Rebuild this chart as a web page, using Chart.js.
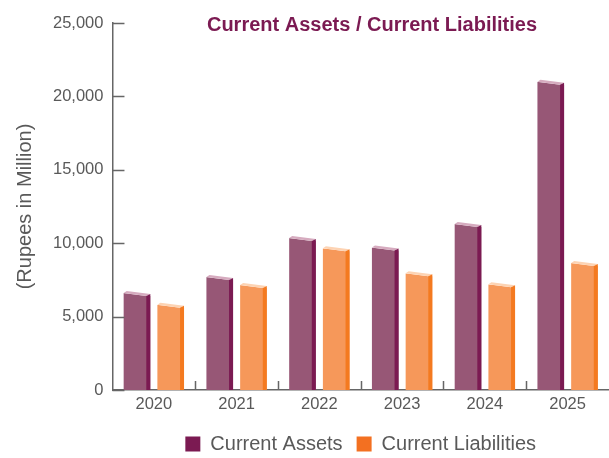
<!DOCTYPE html>
<html>
<head>
<meta charset="utf-8">
<script src="https://cdn.jsdelivr.net/npm/chart.js@4"></script>
<style>
  html, body { margin: 0; padding: 0; background: #fff; }
  #wrap { width: 609px; height: 458px; }
</style>
</head>
<body>
<div id="wrap"><canvas id="chart"></canvas></div>
<script>
// values (Rupees in Million)
const years = ['2020', '2021', '2022', '2023', '2024', '2025'];
const currentAssets = [6600, 7700, 10350, 9700, 11300, 21000];
const currentLiabilities = [5800, 7150, 9650, 7950, 7200, 8650];
const yTicks = [0, 5000, 10000, 15000, 20000, 25000];

const front = ['#975776', '#f6985a'];
const side = ['#7b1a52', '#f47a20'];
const topFace = ['#d6abbf', '#fdd3b3'];
const legendColors = ['#7b1a52', '#f37021'];
const FONT = '"Liberation Sans", Arial, sans-serif';

// draws the side and top faces so the bars look like boxes
const boxBars = {
    id: 'boxBars',
    afterDatasetsDraw(chart) {
        const ctx = chart.ctx;
        chart.data.datasets.forEach((ds, di) => {
            chart.getDatasetMeta(di).data.forEach(bar => {
                const p = bar.getProps(['x', 'y', 'width', 'base'], true);
                const L = p.x - p.width / 2, R = p.x + p.width / 2;
                const T = p.y, B = p.base;
                const s = 4;
                ctx.save();
                // clear the corner above the slanted front edge
                ctx.fillStyle = '#fff';
                ctx.beginPath();
                ctx.moveTo(L - 1, T - 4); ctx.lineTo(R + 1, T - 4);
                ctx.lineTo(R + 1, T + 3); ctx.lineTo(R - s, T + 3); ctx.lineTo(L - 1, T);
                ctx.closePath(); ctx.fill();
                // top face
                ctx.fillStyle = topFace[di];
                ctx.beginPath();
                ctx.moveTo(L, T); ctx.lineTo(L + 3, T - 2);
                ctx.lineTo(R, T + 1); ctx.lineTo(R - s, T + 3);
                ctx.closePath(); ctx.fill();
                // side face
                ctx.fillStyle = side[di];
                ctx.beginPath();
                ctx.moveTo(R - s, T + 3); ctx.lineTo(R, T + 1);
                ctx.lineTo(R, B); ctx.lineTo(R - s, B);
                ctx.closePath(); ctx.fill();
                ctx.restore();
            });
        });
    }
};

// short ticks on the inside of both axes, plus the title
const axisExtras = {
    id: 'axisExtras',
    afterDraw(chart) {
        const ctx = chart.ctx;
        const xs = chart.scales.x, ys = chart.scales.y;
        const area = chart.chartArea;
        ctx.save();
        ctx.strokeStyle = '#666';
        ctx.lineWidth = 1.5;
        ctx.beginPath();
        yTicks.forEach(v => {
            const y = Math.round(ys.getPixelForValue(v)) + 0.5;
            ctx.moveTo(area.left, y); ctx.lineTo(area.left + 12, y);
        });
        for (let i = 1; i < years.length; i++) {
            const x = Math.round((xs.getPixelForValue(i - 1) + xs.getPixelForValue(i)) / 2) + 0.5;
            ctx.moveTo(x, area.bottom); ctx.lineTo(x, area.bottom - 9);
        }
        ctx.stroke();
        ctx.fillStyle = '#7b1a52';
        ctx.font = 'bold 20px ' + FONT;
        ctx.textAlign = 'center';
        ctx.textBaseline = 'middle';
        ctx.fillText('Current Assets / Current Liabilities', 372, 25);
        ctx.restore();
    }
};

new Chart(document.getElementById('chart'), {
    type: 'bar',
    data: {
        labels: years,
        datasets: [
            { label: 'Current Assets', data: currentAssets, backgroundColor: front[0] },
            { label: 'Current Liabilities', data: currentLiabilities, backgroundColor: front[1] }
        ]
    },
    options: {
        responsive: true,
        maintainAspectRatio: false,
        animation: false,
        layout: { padding: { top: 23, right: 0, left: 0, bottom: -6 } },
        datasets: { bar: { categoryPercentage: 0.815, barPercentage: 0.79 } },
        plugins: {
            title: { display: false },
            tooltip: { enabled: false },
            legend: {
                position: 'bottom',
                fullSize: false,
                labels: {
                    boxWidth: 15,
                    boxHeight: 15,
                    padding: 14,
                    color: '#595959',
                    font: { family: FONT, size: 20 },
                    generateLabels: chart => chart.data.datasets.map((ds, i) => ({
                        text: ds.label,
                        fillStyle: legendColors[i],
                        strokeStyle: legendColors[i],
                        lineWidth: 0,
                        datasetIndex: i,
                        fontColor: '#595959'
                    }))
                }
            }
        },
        scales: {
            x: {
                grid: { display: false, drawTicks: false },
                border: { color: '#666', width: 1.5 },
                ticks: { color: '#595959', padding: 5, font: { family: FONT, size: 16.5 } },
                afterFit: scale => { scale.height = 30; }
            },
            y: {
                min: 0,
                max: 25000,
                afterBuildTicks: scale => { scale.ticks = yTicks.map(v => ({ value: v })); },
                grid: { display: false, drawTicks: false },
                border: { color: '#666', width: 1.5 },
                title: {
                    display: true,
                    text: '(Rupees in Million)',
                    color: '#595959',
                    padding: { top: 13, bottom: 7 },
                    font: { family: FONT, size: 20 }
                },
                ticks: {
                    color: '#595959',
                    padding: 9,
                    font: { family: FONT, size: 16.5 },
                    callback: v => v.toLocaleString('en-US')
                }
            }
        }
    },
    plugins: [boxBars, axisExtras]
});
</script>
</body>
</html>
